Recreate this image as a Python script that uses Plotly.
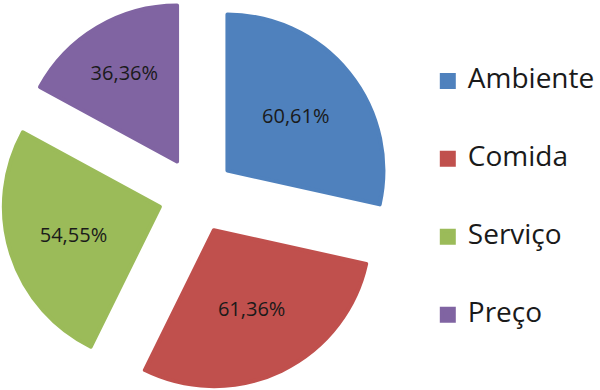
import plotly.graph_objects as go

categories = ["Ambiente", "Comida", "Serviço", "Preço"]
values = [60.61, 61.36, 54.55, 36.36]
colors = ["#4F81BD", "#C0504D", "#9BBB59", "#8064A2"]

# legend labels: blank lines above/below to reproduce the wide vertical spacing
legend_labels = [f" <br><span style='font-size:28px'>{c}</span><br> " for c in categories]

fig = go.Figure(
    go.Pie(
        labels=legend_labels,
        values=values,
        sort=False,
        direction="clockwise",
        rotation=0,
        pull=[0.25] * len(values),
        marker=dict(colors=colors, line=dict(color=colors, width=4)),
        texttemplate="%{value:.2f}%",
        textposition="inside",
        insidetextorientation="horizontal",
        insidetextfont=dict(color="#1a1a1a", size=20, family="Open Sans"),
        domain=dict(x=[0, 0.6567], y=[0, 1]),
        hoverinfo="skip",
    )
)

fig.update_layout(
    width=600,
    height=390,
    margin=dict(l=0, r=0, t=0, b=0),
    paper_bgcolor="white",
    plot_bgcolor="white",
    separators=",.",
    font=dict(family="Open Sans", color="#1a1a1a"),
    showlegend=True,
    legend=dict(
        x=0.713,
        xanchor="left",
        y=0.905,
        yanchor="top",
        font=dict(size=19.2, family="Open Sans", color="#1a1a1a"),
        valign="middle",
        bgcolor="rgba(0,0,0,0)",
    ),
)

fig.write_html(
    "out.html",
    config={"displayModeBar": False},
    post_script="document.body.style.margin='0';",
)
